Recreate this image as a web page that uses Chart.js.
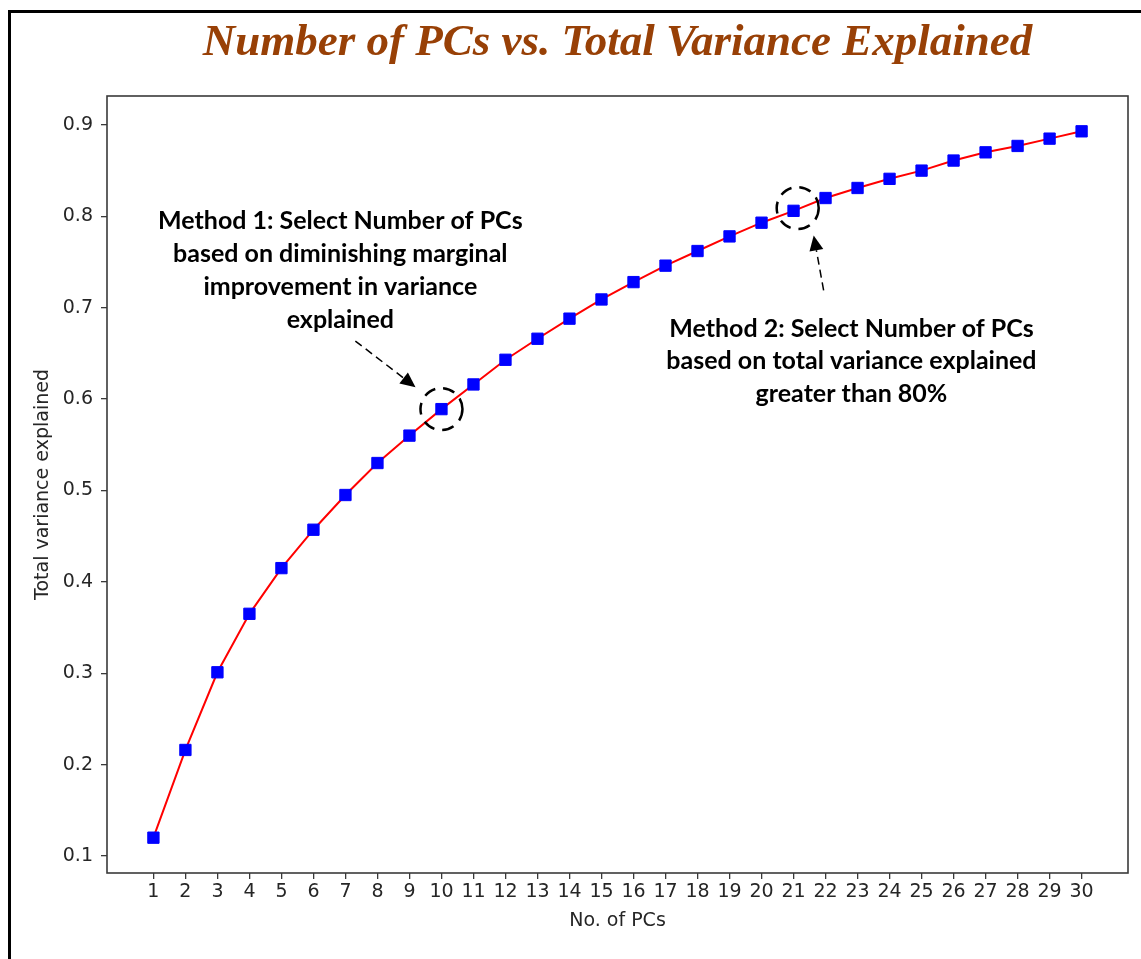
<!DOCTYPE html>
<html>
<head>
<meta charset="utf-8">
<title>Number of PCs vs. Total Variance Explained</title>
<script src="https://cdn.jsdelivr.net/npm/chart.js@4/dist/chart.umd.min.js"></script>
<style>
  html, body { margin: 0; padding: 0; background: #fff; overflow: hidden; }
  #wrap { position: relative; width: 1141px; height: 959px; }
  #pcaChart { position: absolute; left: 0; top: 0; }
  #frame {
    position: absolute; left: 8px; top: 10px; width: 1200px; height: 1000px;
    border-left: 3px solid #000; border-top: 3px solid #000;
    pointer-events: none;
  }
</style>
</head>
<body>
<div id="wrap">
  <canvas id="pcaChart" width="1141" height="959"></canvas>
  <div id="frame"></div>
</div>
<script>
// cumulative explained variance per number of principal components
var pcs = [1, 2, 3, 4, 5, 6, 7, 8, 9, 10, 11, 12, 13, 14, 15,
           16, 17, 18, 19, 20, 21, 22, 23, 24, 25, 26, 27, 28, 29, 30];
var varianceExplained = [0.120, 0.216, 0.301, 0.365, 0.415, 0.457, 0.495, 0.530, 0.560, 0.589,
                         0.616, 0.643, 0.666, 0.688, 0.709, 0.728, 0.746, 0.762, 0.778, 0.793,
                         0.806, 0.820, 0.831, 0.841, 0.850, 0.861, 0.870, 0.877, 0.885, 0.893];
var xTicks = pcs;
var yTicks = [0.1, 0.2, 0.3, 0.4, 0.5, 0.6, 0.7, 0.8, 0.9];

var method1Lines = ['Method 1: Select Number of PCs', 'based on diminishing marginal',
                    'improvement in variance', 'explained'];
var method2Lines = ['Method 2: Select Number of PCs', 'based on total variance explained',
                    'greater than 80%'];

// the two selected component counts that get circled
var method1Pick = 10;
var method2Pick = 21;

var points = pcs.map(function(pc, i) {
    return { x: pc, y: varianceExplained[i] };
});

// matplotlib style 5% margins around the data
var xPad = (pcs[pcs.length - 1] - pcs[0]) * 0.05;
var yLo = Math.min.apply(null, varianceExplained);
var yHi = Math.max.apply(null, varianceExplained);
var yPad = (yHi - yLo) * 0.05;

var axisColor = '#3a3a3a';
var tickFont = { family: '"DejaVu Sans", sans-serif', size: 19 };

function drawArrow(ctx, x0, y0, x1, y1) {
    var ang = Math.atan2(y1 - y0, x1 - x0);
    var headLen = 15, headHalf = 7;
    var bx = x1 - Math.cos(ang) * headLen;
    var by = y1 - Math.sin(ang) * headLen;

    ctx.save();
    ctx.strokeStyle = '#000';
    ctx.lineWidth = 1.5;
    ctx.setLineDash([8, 5]);
    ctx.beginPath();
    ctx.moveTo(x0, y0);
    ctx.lineTo(bx, by);
    ctx.stroke();

    ctx.setLineDash([]);
    ctx.fillStyle = '#000';
    ctx.beginPath();
    ctx.moveTo(x1, y1);
    ctx.lineTo(bx - Math.sin(ang) * headHalf, by + Math.cos(ang) * headHalf);
    ctx.lineTo(bx + Math.sin(ang) * headHalf, by - Math.cos(ang) * headHalf);
    ctx.closePath();
    ctx.fill();
    ctx.restore();
}

function drawDashedCircle(ctx, cx, cy, r) {
    ctx.save();
    ctx.strokeStyle = '#000';
    ctx.lineWidth = 2.5;
    ctx.setLineDash([12, 8]);
    ctx.beginPath();
    ctx.arc(cx, cy, r, 0, Math.PI * 2);
    ctx.stroke();
    ctx.restore();
}

function drawLines(ctx, lines, cx, baseY, step) {
    ctx.save();
    ctx.fillStyle = '#000';
    ctx.font = 'bold 25px Lato, "Open Sans", sans-serif';
    ctx.textAlign = 'center';
    ctx.textBaseline = 'alphabetic';
    lines.forEach(function(line, i) {
        ctx.fillText(line, cx, baseY + i * step);
    });
    ctx.restore();
}

// box around the plot area, like the matplotlib spines
var spinesPlugin = {
    id: 'spines',
    afterDraw: function(chart) {
        var a = chart.chartArea;
        var ctx = chart.ctx;
        ctx.save();
        ctx.strokeStyle = axisColor;
        ctx.lineWidth = 1.6;
        ctx.strokeRect(a.left, a.top, a.right - a.left, a.bottom - a.top);
        ctx.restore();
    }
};

// method notes, circles and arrows, placed in data units
var notesPlugin = {
    id: 'methodNotes',
    afterDatasetsDraw: function(chart) {
        var ctx = chart.ctx;
        var xs = chart.scales.x, ys = chart.scales.y;
        var px = function(v) { return xs.getPixelForValue(v); };
        var py = function(v) { return ys.getPixelForValue(v); };

        var i1 = pcs.indexOf(method1Pick);
        var i2 = pcs.indexOf(method2Pick);
        drawDashedCircle(ctx, px(method1Pick), py(varianceExplained[i1]), 21);
        drawDashedCircle(ctx, px(method2Pick + 0.13), py(varianceExplained[i2] + 0.003), 21);

        drawArrow(ctx, px(7.31), py(0.6635), px(9.19), py(0.613));
        drawArrow(ctx, px(21.94), py(0.719), px(21.63), py(0.779));

        drawLines(ctx, method1Lines, px(6.84), py(0.786), 33);
        drawLines(ctx, method2Lines, px(22.81), py(0.668), 32.5);
    }
};

var ctx = document.getElementById('pcaChart');
var chart = new Chart(ctx, {
    type: 'line',
    data: {
        datasets: [{
            label: 'Total variance explained',
            data: points,
            borderColor: '#ff0000',
            borderWidth: 2,
            tension: 0,
            pointStyle: 'rect',
            pointRadius: 8,
            pointBackgroundColor: '#0000ff',
            pointBorderColor: '#0000ff',
            pointBorderWidth: 1
        }]
    },
    options: {
        responsive: false,
        animation: false,
        events: [],
        layout: { padding: { left: 0, right: 13, top: 0, bottom: 0 } },
        plugins: {
            legend: { display: false },
            tooltip: { enabled: false },
            title: {
                display: true,
                fullSize: false,
                text: 'Number of PCs vs. Total Variance Explained',
                color: '#984006',
                font: { family: '"Liberation Serif", serif', size: 45, weight: 'bold', style: 'italic', lineHeight: 1.2 },
                padding: { top: 16, bottom: 26 }
            }
        },
        scales: {
            x: {
                type: 'linear',
                min: pcs[0] - xPad,
                max: pcs[pcs.length - 1] + xPad,
                afterBuildTicks: function(scale) {
                    scale.ticks = xTicks.map(function(v) { return { value: v }; });
                },
                afterFit: function(scale) { scale.height = 86; },
                border: { display: false },
                grid: { drawOnChartArea: false, drawTicks: true, tickLength: 6, color: axisColor, lineWidth: 1.3 },
                ticks: {
                    color: '#262626',
                    font: tickFont,
                    padding: 2,
                    maxRotation: 0,
                    autoSkip: false,
                    callback: function(v) { return String(v); }
                },
                title: {
                    display: true,
                    text: 'No. of PCs',
                    color: '#262626',
                    font: tickFont,
                    padding: { top: 0, bottom: 27 }
                }
            },
            y: {
                type: 'linear',
                min: yLo - yPad,
                max: yHi + yPad,
                afterBuildTicks: function(scale) {
                    scale.ticks = yTicks.map(function(v) { return { value: v }; });
                },
                afterFit: function(scale) { scale.width = 107; },
                border: { display: false },
                grid: { drawOnChartArea: false, drawTicks: true, tickLength: 6, color: axisColor, lineWidth: 1.3 },
                ticks: {
                    color: '#262626',
                    font: tickFont,
                    padding: 8,
                    autoSkip: false,
                    callback: function(v) { return v.toFixed(1); }
                },
                title: {
                    display: true,
                    text: 'Total variance explained',
                    color: '#262626',
                    font: tickFont,
                    padding: { top: 32, bottom: 0 }
                }
            }
        }
    },
    plugins: [notesPlugin, spinesPlugin]
});
</script>
</body>
</html>
